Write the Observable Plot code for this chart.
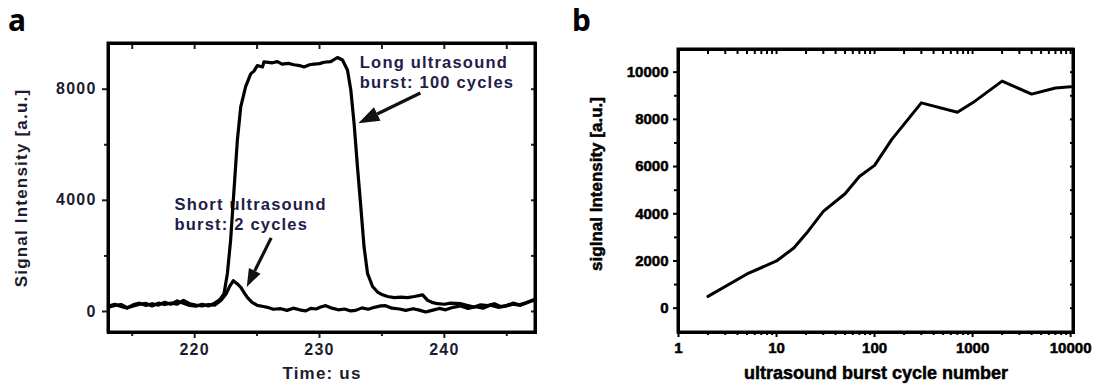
<!DOCTYPE html>
<html><head><meta charset="utf-8">
<script src="https://cdn.jsdelivr.net/npm/d3@7"></script>
<script src="https://cdn.jsdelivr.net/npm/@observablehq/plot@0.6"></script>
<style>
html,body{margin:0;padding:0;background:#fff;}
body{width:1101px;height:386px;overflow:hidden;position:relative;font-family:"Liberation Sans",Arial,sans-serif;}
.panel{position:absolute;top:0;z-index:1;}
.tag{position:absolute;z-index:5;font-family:"Noto Sans",sans-serif;font-weight:bold;font-size:30px;line-height:1;color:#000;}
</style></head><body>
<div class="tag" style="left:8px;top:5px">a</div>
<div class="tag" style="left:572px;top:5px">b</div>
<div class="panel" id="pa" style="left:0px"></div>
<div class="panel" id="pb" style="left:550px"></div>
<script>
// ---------- Panel a data ----------
const timeLong = [213.1,213.6,214.1,214.6,215.1,215.6,216.1,216.6,217.1,217.6,218.1,218.6,219.1,219.6,220.1,220.6,221.1,221.6,222.0,222.35,222.62,222.88,223.15,223.42,223.69,224.09,224.49,224.75,225.02,225.43,225.55,226.23,226.63,227.0,227.5,227.96,228.4,228.76,229.2,229.56,230.0,230.37,230.9,231.44,231.84,232.24,232.51,232.77,233.04,233.31,233.57,233.85,234.25,234.65,235.05,235.45,236.0,236.5,237.05,237.6,238.26,238.66,239.0,239.46,240.0,240.5,241.33,241.8,242.39,242.9,243.47,244.0,244.5,245.0,245.5,246.0,246.6,247.3];
const signalLong = [200,260,180,120,250,300,220,280,230,330,260,380,300,220,190,260,200,300,420,640,1360,2560,4360,6160,7360,8100,8550,8650,8850,8800,8980,8950,8990,8900,8930,8880,8850,8800,8880,8900,8920,8970,8990,9140,9050,8690,7960,6770,5200,3760,2320,1360,900,700,600,540,500,520,500,540,600,400,330,280,260,300,280,220,160,240,210,280,180,220,300,240,320,450];
const timeShort = [213.1,213.6,214.1,214.6,215.1,215.6,216.1,216.6,217.1,217.6,218.1,218.6,219.1,219.6,220.1,220.6,221.1,221.6,222.1,222.5,222.8,223.1,223.4,223.7,224.0,224.22,224.6,225.02,225.5,225.83,226.3,226.9,227.4,227.9,228.4,228.9,229.3,229.72,230.1,230.5,231.0,231.5,232.0,232.5,232.9,233.4,233.9,234.4,234.9,235.3,235.8,236.4,236.9,237.5,238.0,238.5,239.0,239.6,240.1,240.7,241.3,241.9,242.5,243.1,243.7,244.3,244.9,245.5,246.1,246.7,247.3];
const signalShort = [150,220,250,140,200,260,290,200,300,250,300,260,400,280,230,200,250,230,400,620,900,1110,1000,870,650,510,330,220,180,150,80,100,40,120,60,20,110,90,160,210,120,60,90,20,40,130,80,150,200,210,120,90,40,100,50,-20,40,110,60,150,200,110,170,120,230,150,190,260,220,330,420];
const aXDomain = [213.1, 247.3];
const aYDomain = [-756, 9644];
const aXTicks = [220,230,240];
const aXMinor = [215,225,235,245];
const aYTicks = [0,4000,8000];
const aYMinor = [2000,6000];
const aXLabel = "Time: us";
const aYLabel = "Signal Intensity [a.u.]";
const aNoteText = ["Long ultrasound\nburst: 100 cycles","Short ultrasound\nburst: 2 cycles"];
const aNoteX = [233.23,218.39];
const aNoteY = [8642,3532];
const aArrowFrom = [[238.12,7846],[226.17,2631]];
const aArrowTo = [[233.15,6758],[224.21,865]];

// ---------- Panel b data ----------
const cycles = [2,5,10,15,20,30,50,70,100,150,300,700,1000,2000,4000,7000,10000];
const intensity = [500,1450,2000,2550,3150,4100,4850,5580,6050,7150,8700,8300,8700,9620,9070,9330,9380];
const bXDomain = [1, 10700];
const bYDomain = [-1030, 10960];
const bXTicks = [1,10,100,1000,10000];
const bYTicks = [0,2000,4000,6000,8000,10000];
const bYMinor = [1000,3000,5000,7000,9000];
const bXLabel = "ultrasound burst cycle number";
const bYLabel = "siglnal Intensity [a.u.]";

// ---------- build ----------
const longData = timeLong.map((t,i)=>({t, v: signalLong[i]}));
const shortData = timeShort.map((t,i)=>({t, v: signalShort[i]}));
const notes = aNoteText.map((text,i)=>({text, x:aNoteX[i], y:aNoteY[i]}));
const arrows = aArrowFrom.map((f,i)=>({x1:f[0], y1:f[1], x2:aArrowTo[i][0], y2:aArrowTo[i][1], L: i===0?21:18, W: i===0?7.5:6.5}));
const bData = cycles.map((c,i)=>({c, v:intensity[i]}));
const bXMinor = [];
for (const d of [1,10,100,1000]) for (let k=2;k<=9;k++) bXMinor.push(d*k);

function arrowMark(list, color) {
  return (index, scales) => {
    const g = d3.create("svg:g");
    for (const a of list) {
      const x1 = scales.x(a.x1), y1 = scales.y(a.y1), x2 = scales.x(a.x2), y2 = scales.y(a.y2);
      const ang = Math.atan2(y2-y1, x2-x1);
      const bx = x2 - a.L*Math.cos(ang), by = y2 - a.L*Math.sin(ang);
      const px = -Math.sin(ang), py = Math.cos(ang);
      g.append("line").attr("x1",x1).attr("y1",y1).attr("x2",bx).attr("y2",by)
        .attr("stroke",color).attr("stroke-width",3.2);
      g.append("path").attr("d",`M${x2},${y2}L${bx+a.W*px},${by+a.W*py}L${bx-a.W*px},${by-a.W*py}Z`).attr("fill",color);
    }
    return g.node();
  };
}
const blank = () => "";
const plain = d => String(d);

const textA = "#1c1c30";
const plotA = Plot.plot({
  width: 550, height: 386,
  marginLeft: 108, marginRight: 15, marginTop: 43, marginBottom: 54,
  x: {domain: aXDomain},
  y: {domain: aYDomain},
  style: {fontFamily: "'Liberation Sans', Arial, sans-serif", fontSize: "16px", fontWeight: "bold", color: textA, background: "white", overflow: "visible"},
  marks: [
    Plot.text(notes, {x:"x", y:"y", text:"text", textAnchor:"start", lineAnchor:"middle", lineHeight:1.25, fontSize:16.5, fill:"#1e2048"}),
    Plot.line(longData, {x:"t", y:"v", stroke:"black", strokeWidth:3.2, strokeLinejoin:"round"}),
    Plot.line(shortData, {x:"t", y:"v", stroke:"black", strokeWidth:3.2, strokeLinejoin:"round"}),
    arrowMark(arrows, "#111"),
    Plot.axisX(aXTicks, {anchor:"bottom", tickSize:6, tickPadding:5, strokeWidth:2, label:null, tickFormat:plain}),
    Plot.axisX(aXMinor, {anchor:"bottom", tickSize:4, tickFormat:blank, strokeWidth:2, label:null}),
    Plot.axisX([...aXTicks, ...aXMinor], {anchor:"top", tickSize:-5, tickFormat:blank, strokeWidth:2, label:null}),
    Plot.axisY(aYTicks, {anchor:"left", tickSize:6, tickPadding:6, strokeWidth:2, label:null, tickFormat:plain}),
    Plot.axisY(aYMinor, {anchor:"left", tickSize:4, tickFormat:blank, strokeWidth:2, label:null}),
    Plot.axisY([...aYTicks, ...aYMinor], {anchor:"right", tickSize:-5, tickFormat:blank, strokeWidth:2, label:null}),
    Plot.text([aXLabel], {frameAnchor:"bottom", dy:46, fontSize:17, fill:textA}),
    Plot.text([aYLabel], {frameAnchor:"left", textAnchor:"middle", rotate:-90, dx:-86.5, fontSize:17, fill:textA}),
    Plot.frame({stroke:"black", strokeWidth:3})
  ]
});
document.getElementById("pa").appendChild(plotA);

const plotB = Plot.plot({
  width: 551, height: 386,
  marginLeft: 128, marginRight: 28, marginTop: 49, marginBottom: 54,
  x: {type: "log", domain: bXDomain},
  y: {domain: bYDomain},
  style: {fontFamily: "'Liberation Sans', Arial, sans-serif", fontSize: "15px", fontWeight: "bold", color: "black", background: "white", overflow: "visible"},
  marks: [
    Plot.line(bData, {x:"c", y:"v", stroke:"black", strokeWidth:3, strokeLinejoin:"round"}),
    Plot.axisX(bXTicks, {anchor:"bottom", tickSize:5, tickPadding:5, strokeWidth:2, label:null, tickFormat:plain}),
    Plot.axisX(bXMinor, {anchor:"bottom", tickSize:3, tickFormat:blank, strokeWidth:2, label:null}),
    Plot.axisX([...bXTicks, ...bXMinor], {anchor:"top", tickSize:-4, tickFormat:blank, strokeWidth:2, label:null}),
    Plot.axisY(bYTicks, {anchor:"left", tickSize:5, tickPadding:5, strokeWidth:2, label:null, tickFormat:plain}),
    Plot.axisY(bYMinor, {anchor:"left", tickSize:4, tickFormat:blank, strokeWidth:2, label:null}),
    Plot.axisY([...bYTicks, ...bYMinor], {anchor:"right", tickSize:-4, tickFormat:blank, strokeWidth:2, label:null}),
    Plot.text([bXLabel], {frameAnchor:"bottom", dy:46, fontSize:18}),
    Plot.text([bYLabel], {frameAnchor:"left", textAnchor:"middle", rotate:-90, dx:-81.6, dy:-7, fontSize:17}),
    Plot.frame({stroke:"black", strokeWidth:3})
  ]
});
document.getElementById("pb").appendChild(plotB);

// plot-area border appended from each plot's own scale ranges
function addBorder(svg) {
  const xr = svg.scale("x").range, yr = svg.scale("y").range;
  d3.select(svg).append("rect")
    .attr("x", Math.min(...xr)).attr("y", Math.min(...yr))
    .attr("width", Math.abs(xr[1]-xr[0])).attr("height", Math.abs(yr[1]-yr[0]))
    .attr("fill","none").attr("stroke","black").attr("stroke-width",3);
}
try { addBorder(plotA); } catch(e) {}
try { addBorder(plotB); } catch(e) {}

d3.select(plotA).selectAll("text").attr("letter-spacing", "1.2px");
d3.select(plotB).selectAll("text").attr("stroke", "currentColor").attr("stroke-width", 0.5).attr("paint-order","stroke");
</script>
</body></html>
